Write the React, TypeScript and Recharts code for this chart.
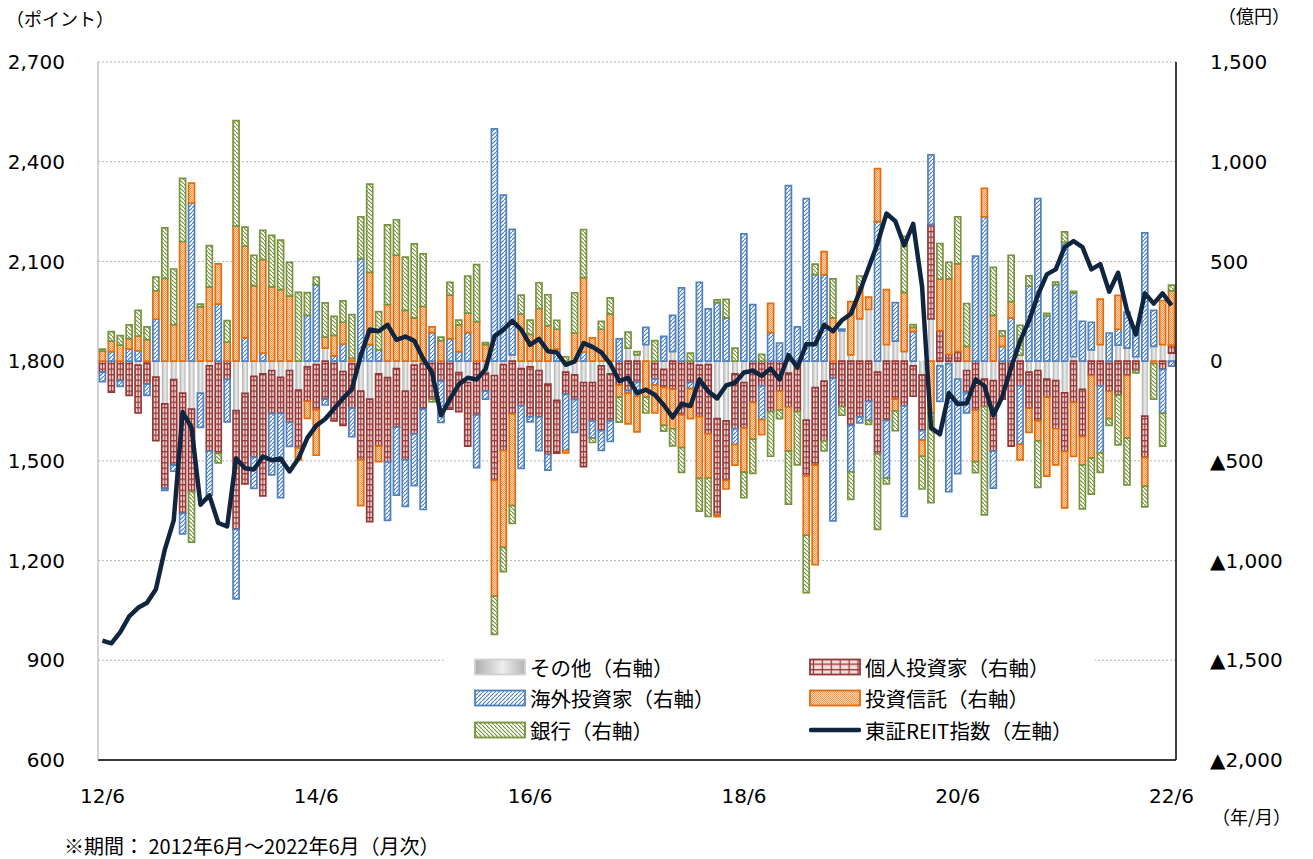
import React from 'react';
import { ComposedChart, Bar, Line, XAxis, YAxis, CartesianGrid } from 'recharts';

// 2012/6 - 2022/6, monthly (121 points)
const xTickIdx = [0, 24, 48, 72, 96, 120];
const xTickLabels = ['12/6', '14/6', '16/6', '18/6', '20/6', '22/6'];
const leftTicks = [600, 900, 1200, 1500, 1800, 2100, 2400, 2700];
const rightTicks = [-2000, -1500, -1000, -500, 0, 500, 1000, 1500];

// 東証REIT指数 (points)
const reit = [
  959, 951, 985, 1032, 1058, 1073, 1114, 1233, 1321, 1647,
  1600, 1368, 1396, 1313, 1303, 1507, 1478, 1474, 1513, 1502,
  1507, 1468, 1507, 1569, 1606, 1626, 1657, 1688, 1716, 1818,
  1895, 1890, 1909, 1864, 1874, 1861, 1807, 1766, 1637, 1685,
  1730, 1750, 1745, 1776, 1874, 1895, 1921, 1895, 1849, 1867,
  1830, 1826, 1789, 1799, 1854, 1843, 1826, 1792, 1740, 1750,
  1704, 1714, 1699, 1668, 1631, 1671, 1665, 1745, 1709, 1688,
  1727, 1735, 1766, 1771, 1756, 1778, 1745, 1818, 1781, 1851,
  1851, 1909, 1890, 1923, 1942, 2009, 2081, 2154, 2244, 2221,
  2148, 2213, 2024, 1600, 1580, 1704, 1671, 1673, 1745, 1725,
  1637, 1693, 1781, 1860, 1921, 1999, 2061, 2076, 2143, 2161,
  2143, 2076, 2092, 2009, 2066, 1952, 1880, 2004, 1973, 2004,
  1968,
];

// 投資部門別売買 (億円)
const other = [
  0, 0, 0, 0, -20, -10, -80, -214, -93, -160,
  -241, -160, -24, 0, 0, -248, -162, -76, -64, -47,
  -81, -47, -145, -29, -17, 65, 0, -52, -12, -150,
  -190, -64, -83, -38, -150, -20, -12, 0, 0, 0,
  -58, -107, 0, -60, -72, -17, 31, -38, -29, -47,
  -115, -197, -55, -69, -107, -107, -24, -64, 0, 65,
  31, 83, 0, -41, 48, 0, 0, -20, -17, -288,
  -300, -64, -107, 0, 0, 0, 0, -60, 0, -296,
  -133, -100, 0, 152, 31, 212, 259, -55, 83, 100,
  48, -24, -69, 212, -24, -12, -90, -47, 0, -90,
  -98, 0, 0, 30, -55, -47, -90, -98, -159, 22,
  -141, 57, 83, 0, 80, 65, 22, -276, 74, 83,
  40,
];

const indiv = [
  -55, -155, -98, -172, -240, -105, -319, -424, -428, -603,
  -414, 0, -427, -462, -93, -596, -453, -407, -612, -216,
  -181, -260, -290, -172, -227, -190, -300, -270, -224, -345,
  -615, -362, -422, -293, -345, -345, -229, -190, -100, -241,
  -195, -319, -270, -90, -526, -431, -265, -186, -250, -233,
  -353, -264, -112, -124, -422, -193, -324, -236, -120, -148,
  -107, 0, -90, -91, -141, -270, -107, -258, -348, -483,
  -298, -276, -228, -207, -124, -253, -150, -170, -253, -279,
  -388, -300, -86, -228, -322, -279, -202, -410, -297, -190,
  -224, -152, -279, 474, 153, 34, 48, -112, -245, -138,
  -353, -190, -426, -124, -181, -253, -90, -241, -293, -207,
  -238, -72, -124, -150, -170, -72, -47, -207, 0, -41,
  40,
];

const foreign = [
  -48, 48, -29, 60, 52, -57, 210, -10, -31, -103,
  793, -172, -221, 286, -212, -348, 117, -155, 40, -307,
  -422, -120, 0, 229, 384, -30, 26, 86, -143, 514,
  83, 55, -293, -341, -233, -259, -503, 143, -207, 112,
  48, 143, -264, -40, 1165, 832, 630, -314, -26, -169,
  -78, 60, -281, -164, 45, -86, -100, -103, 112, -12,
  -69, 86, -30, 124, 181, 367, -31, 395, 262, 293,
  217, -78, 638, 283, -169, 143, 91, 880, 172, 815,
  434, 434, -715, 9, -233, -31, -95, 700, -290, 193,
  -555, 148, -48, 348, -178, -643, -474, -100, 527, 724,
  -186, 74, 217, -293, 376, 815, 228, 384, 596, 319,
  200, 138, -336, 141, 80, 181, 138, 643, 181, -221,
  -25,
];

const trust = [
  50, 52, 80, 53, 74, 108, 143, 415, 183, 600,
  100, 272, 372, 202, 96, 677, 460, 379, 469, 372,
  359, 326, -60, -86, -228, 55, 103, 109, 14, -229,
  362, -78, 283, 531, 255, 217, 274, 29, 103, 219,
  134, 98, 198, 83, -581, -486, -459, 236, 134, 264,
  178, 100, -12, 141, 374, 117, 160, 236, -60, -155,
  -179, -180, -140, -190, -198, -164, -150, -310, -221, -9,
  -43, -103, -221, -184, -76, 147, -95, -221, 0, -298,
  -500, 115, 217, 0, 267, 155, 62, 265, 276, -59,
  297, 21, -81, -260, 259, 379, 440, 74, -259, 143,
  229, 52, 81, -78, -121, -100, -397, -181, -284, -271,
  -141, -414, 228, -138, 170, -314, 0, -145, -12, 221,
  272,
];

const bank = [
  10, 48, 48, 69, 129, 64, 69, 253, 279, 316,
  -253, 14, 207, -48, 107, 529, 95, 152, 147, 259,
  248, 169, 345, 115, 38, 172, 95, 107, 219, 210,
  443, 193, 400, 178, 267, 371, 264, -14, 17, 64,
  24, 186, 286, 10, -191, -121, -90, 95, 72, 129,
  155, 45, 22, 202, 241, -22, 40, 81, -126, 81,
  17, -80, 103, -29, -86, -124, 40, -164, -193, 14,
  93, 65, -129, -172, 34, -224, -43, -266, -267, -288,
  52, -50, 196, -43, -138, 60, -20, -379, -29, -100,
  281, 14, -164, -450, 178, 83, 236, 215, -55, -543,
  241, 26, 233, 150, 52, -233, 12, 12, 52, 9,
  -221, -181, -98, -34, -250, -234, -12, -103, -178, -164,
  29,
];

const data = reit.map((v, i) => ({
  idx: i,
  other: other[i],
  indiv: indiv[i],
  foreign: foreign[i],
  trust: trust[i],
  bank: bank[i],
  reit: v,
}));

const NUM_FONT = "'DejaVu Sans', Verdana, sans-serif";
const JP_FONT = "'Noto Sans CJK JP', 'Noto Sans', sans-serif";

const fmt = (v: number) => v.toLocaleString('en-US');
const fmtRight = (v: number) => (v < 0 ? '▲' + fmt(-v) : fmt(v));
const fmtX = (v: number) => xTickLabels[xTickIdx.indexOf(v)] ?? '';

const BAND = 1078 / 121;

const Patterns = () => (
  <svg width={0} height={0} style={{ position: 'absolute' }}>
    <defs>
      <linearGradient id="gOther" x1="0" y1="0" x2="1" y2="0">
        <stop offset="0%" stopColor="#adadad" />
        <stop offset="55%" stopColor="#eeeeee" />
        <stop offset="100%" stopColor="#b5b5b5" />
      </linearGradient>
      <pattern id="pIndiv" patternUnits="userSpaceOnUse" width={BAND} height="5.5">
        <rect width={BAND} height="5.5" fill="#f2dcdb" />
        <line x1="0" y1="0.7" x2={BAND} y2="0.7" stroke="#953735" strokeWidth="1.3" />
        <line x1={BAND / 2} y1="0" x2={BAND / 2} y2="5.5" stroke="#953735" strokeWidth="1.2" />
      </pattern>
      <pattern id="pForeign" patternUnits="userSpaceOnUse" width="4" height="4">
        <rect width="4" height="4" fill="#ffffff" />
        <line x1="0" y1="4" x2="4" y2="0" stroke="#4a7ebb" strokeWidth="1.2" />
      </pattern>
      <pattern id="pTrust" patternUnits="userSpaceOnUse" width="2" height="2">
        <rect width="2" height="2" fill="#fcd9bd" />
        <rect x="0" y="0" width="1" height="1" fill="#f79646" />
        <rect x="1" y="1" width="1" height="1" fill="#f79646" />
      </pattern>
      <pattern id="pBank" patternUnits="userSpaceOnUse" width="4" height="4">
        <rect width="4" height="4" fill="#ffffff" />
        <line x1="0" y1="0" x2="4" y2="4" stroke="#77933c" strokeWidth="1.2" />
      </pattern>
    </defs>
  </svg>
);

const series = [
  { key: 'other', name: 'その他（右軸）', fill: 'url(#gOther)', stroke: 'none' },
  { key: 'indiv', name: '個人投資家（右軸）', fill: 'url(#pIndiv)', stroke: '#953735' },
  { key: 'foreign', name: '海外投資家（右軸）', fill: 'url(#pForeign)', stroke: '#4f81bd' },
  { key: 'trust', name: '投資信託（右軸）', fill: 'url(#pTrust)', stroke: '#e46c0a' },
  { key: 'bank', name: '銀行（右軸）', fill: 'url(#pBank)', stroke: '#77933c' },
];

const legendItems = [
  { s: series[0], left: 474, top: 658 },
  { s: series[1], left: 809, top: 658 },
  { s: series[2], left: 474, top: 689 },
  { s: series[3], left: 809, top: 689 },
  { s: series[4], left: 474, top: 721 },
];

const Swatch = ({ fill, stroke }: { fill: string; stroke: string }) => (
  <svg width={52} height={18} style={{ display: 'block' }}>
    <rect x={1} y={1.5} width={50} height={15} fill={fill} stroke={stroke} strokeWidth={1.8} />
  </svg>
);

const labelStyle: React.CSSProperties = {
  marginLeft: 4,
  fontSize: 20.5,
  lineHeight: '18px',
  fontFamily: JP_FONT,
  whiteSpace: 'nowrap',
};

const App: React.FC = () => {
  return (
    <div style={{ position: 'absolute', left: 0, top: 0, width: 1313, height: 859, background: '#fff', overflow: 'hidden' }}>
      <Patterns />
      <ComposedChart
        width={1313}
        height={859}
        data={data}
        stackOffset="sign"
        barCategoryGap="16%"
        margin={{ top: 62, right: 7, bottom: 59, left: 8 }}
      >
        <CartesianGrid yAxisId="left" vertical={false} stroke="#b5b5b5" strokeDasharray="2 2" />
        <XAxis
          dataKey="idx"
          type="category"
          ticks={xTickIdx}
          interval={0}
          tickFormatter={fmtX}
          height={40}
          tickSize={0}
          tickMargin={29}
          axisLine={{ stroke: '#000', strokeWidth: 1.5 }}
          tickLine={false}
          tick={{ fill: '#000', fontSize: 20, fontFamily: NUM_FONT }}
        />
        <YAxis
          yAxisId="left"
          domain={[600, 2700]}
          ticks={leftTicks}
          tickFormatter={fmt}
          width={90}
          tickSize={0}
          tickMargin={33}
          axisLine={{ stroke: '#a6a6a6' }}
          tickLine={false}
          tick={{ fill: '#000', fontSize: 20, fontFamily: NUM_FONT }}
        />
        <YAxis
          yAxisId="right"
          orientation="right"
          domain={[-2000, 1500]}
          ticks={rightTicks}
          tickFormatter={fmtRight}
          width={130}
          tickSize={0}
          tickMargin={34}
          axisLine={{ stroke: '#000', strokeWidth: 1.5 }}
          tickLine={false}
          tick={{ fill: '#000', fontSize: 20, fontFamily: NUM_FONT, textAnchor: 'start' }}
        />
        {series.map((s) => (
          <Bar
            key={s.key}
            yAxisId="right"
            dataKey={s.key}
            name={s.name}
            stackId="flow"
            fill={s.fill}
            stroke={s.stroke}
            strokeWidth={1.7}
            isAnimationActive={false}
          />
        ))}
        <Line
          yAxisId="left"
          type="linear"
          dataKey="reit"
          name="東証REIT指数（左軸）"
          stroke="#10253f"
          strokeWidth={4.5}
          strokeLinejoin="round"
          dot={false}
          activeDot={false}
          isAnimationActive={false}
        />
      </ComposedChart>

      {/* axis titles */}
      <div style={{ position: 'absolute', left: 6, top: 7, fontSize: 18, lineHeight: '22px', fontFamily: JP_FONT }}>（ポイント）</div>
      <div style={{ position: 'absolute', left: 1218, top: 4, fontSize: 18, lineHeight: '22px', fontFamily: JP_FONT }}>（億円）</div>
      <div style={{ position: 'absolute', left: 1212, top: 805, fontSize: 18, lineHeight: '22px', fontFamily: JP_FONT }}>（年/月）</div>
      <div style={{ position: 'absolute', left: 64, top: 835, fontSize: 20, lineHeight: '22px', fontFamily: JP_FONT }}>※期間： 2012年6月～2022年6月（月次）</div>

      {/* legend */}
      <div style={{ position: 'absolute', left: 445, top: 650, width: 650, height: 95, background: '#fff' }} />
      {legendItems.map(({ s, left, top }) => (
        <div key={s.key} style={{ position: 'absolute', left, top, display: 'flex', alignItems: 'center', height: 18 }}>
          <Swatch fill={s.fill} stroke={s.stroke === 'none' ? '#d0d0d0' : s.stroke} />
          <span style={labelStyle}>{s.name}</span>
        </div>
      ))}
      <div style={{ position: 'absolute', left: 809, top: 721, display: 'flex', alignItems: 'center', height: 18 }}>
        <svg width={52} height={18} style={{ display: 'block' }}>
          <line x1={2} y1={9} x2={50} y2={9} stroke="#10253f" strokeWidth={4.5} strokeLinecap="round" />
        </svg>
        <span style={labelStyle}>東証REIT指数（左軸）</span>
      </div>
    </div>
  );
};

export default App;
